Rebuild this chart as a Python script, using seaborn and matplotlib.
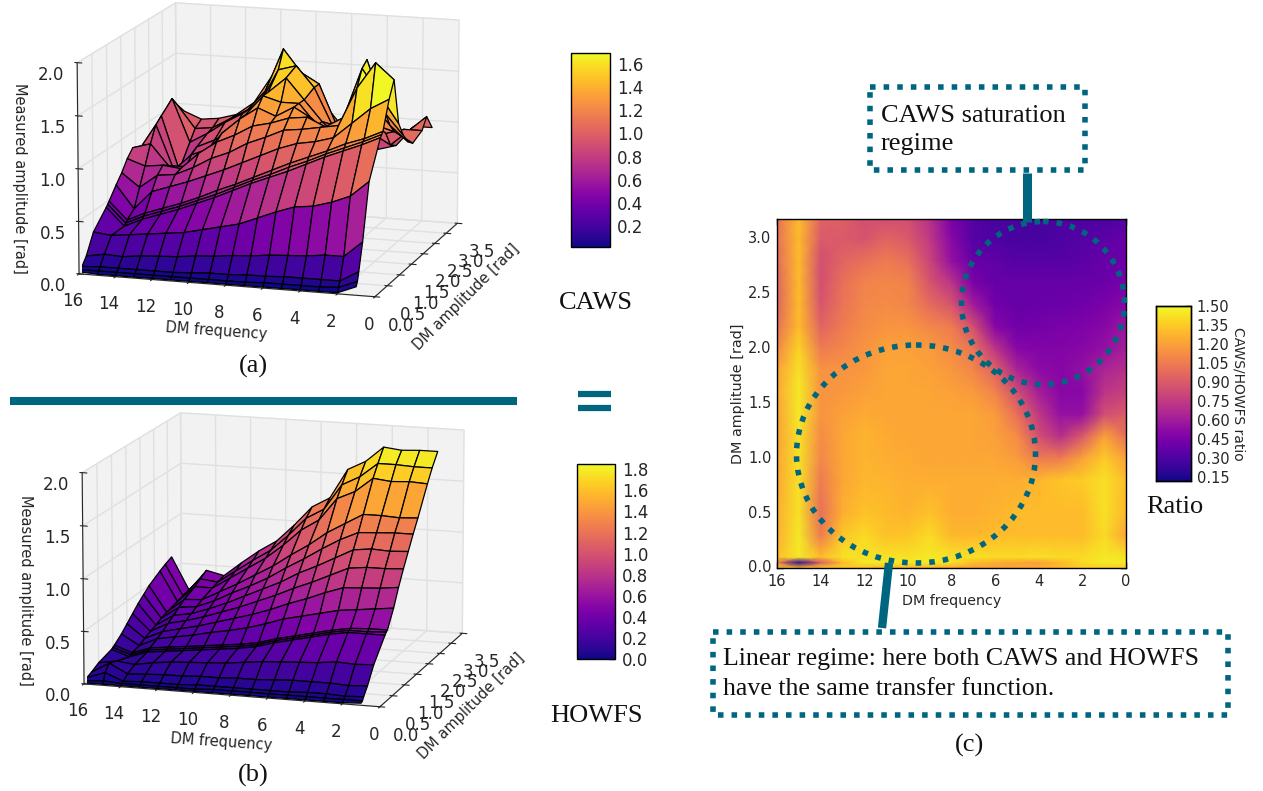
import numpy as np
import pandas as pd
import matplotlib
matplotlib.use("Agg")
import matplotlib.pyplot as plt
from matplotlib.patches import Ellipse, Rectangle
import seaborn as sns

sns.set_style("white")
plt.rcParams['font.family'] = ['DejaVu Sans']

surf_freq = [16, 15, 14, 13, 12, 11, 10, 9, 8, 7, 6, 5, 4, 3, 2, 1]
surf_amp = [0, .05, .1, .25, .5, .95, 1.0, 1.05, 1.3, 1.5, 1.7, 1.9, 2.1, 2.3, 2.7, 2.9, 3.14]

caws = [
 [.02,.01,.01,.01,.01,.01,.01,.01,.01,.01,.01,.01,.01,.01,.01,.08],
 [.03,.03,.03,.03,.03,.03,.03,.03,.03,.03,.04,.04,.04,.04,.05,.12],
 [.05,.06,.06,.06,.06,.06,.07,.08,.08,.09,.09,.10,.10,.10,.10,.20],
 [.12,.15,.14,.16,.17,.18,.20,.21,.23,.24,.26,.27,.28,.30,.30,.45],
 [.30,.28,.30,.32,.34,.36,.40,.44,.48,.55,.62,.68,.70,.75,.82,.97],
 [.45,.28,.36,.42,.48,.55,.62,.70,.78,.85,.92,1.00,1.08,1.15,1.22,1.30],
 [.47,.30,.38,.44,.50,.57,.64,.72,.80,.87,.95,1.02,1.10,1.17,1.24,1.32],
 [.49,.32,.40,.46,.52,.59,.67,.74,.82,.90,.98,1.05,1.12,1.20,1.26,1.34],
 [.60,.38,.56,.62,.68,.75,.82,.90,.98,1.06,1.12,1.15,1.20,1.35,1.50,1.60],
 [.68,.55,.68,.70,.78,.88,.95,1.05,1.12,1.20,1.22,1.25,1.28,1.65,1.90,1.75],
 [.78,.72,.74,.72,.88,1.00,1.08,1.18,1.22,1.28,1.30,1.22,1.32,1.80,1.55,1.30],
 [.85,.90,.70,.70,.80,1.05,1.20,1.32,1.25,1.35,1.25,1.10,1.20,1.85,1.35,1.15],
 [.78,1.05,.62,.78,.85,1.05,1.20,1.40,1.35,1.35,1.15,1.05,1.45,1.40,1.20,1.05],
 [.72,1.10,.58,.82,.90,1.00,1.12,1.40,1.55,1.35,1.15,1.00,1.55,1.15,1.10,1.00],
 [.85,1.20,.78,.88,1.00,1.10,1.22,1.55,1.60,1.40,1.05,.95,1.20,1.00,1.05,1.05],
 [.90,1.10,.88,.90,1.00,1.10,1.30,1.72,1.50,1.40,1.00,.85,.95,.85,1.00,1.15],
 [.97,1.00,.93,.95,1.00,1.13,1.40,1.45,1.30,1.15,.95,.80,.75,.80,1.00,1.00],
]
howfs = [
 [.01,.01,.01,.01,.01,.01,.01,.01,.01,.01,.01,.01,.01,.01,.01,.02],
 [.02,.03,.02,.02,.02,.02,.02,.03,.03,.03,.03,.03,.03,.03,.03,.03],
 [.04,.10,.03,.04,.04,.04,.05,.05,.05,.05,.05,.05,.06,.06,.05,.06],
 [.06,.16,.07,.08,.09,.09,.10,.10,.11,.11,.12,.13,.13,.13,.12,.13],
 [.10,.13,.11,.14,.16,.17,.18,.19,.21,.23,.24,.25,.26,.28,.27,.28],
 [.14,.08,.14,.16,.18,.20,.22,.24,.27,.32,.36,.40,.44,.47,.47,.47],
 [.15,.09,.15,.17,.19,.21,.23,.25,.28,.33,.37,.41,.45,.48,.48,.49],
 [.16,.10,.16,.18,.20,.22,.24,.26,.29,.34,.38,.42,.46,.49,.50,.50],
 [.22,.12,.20,.23,.26,.30,.33,.37,.42,.48,.52,.56,.60,.62,.64,.66],
 [.28,.15,.23,.27,.31,.36,.41,.46,.52,.59,.65,.72,.78,.79,.80,.82],
 [.34,.18,.27,.31,.36,.42,.48,.55,.62,.70,.77,.85,.93,.95,.95,.96],
 [.40,.20,.31,.34,.40,.47,.55,.63,.71,.81,.89,.98,1.07,1.09,1.08,1.09],
 [.45,.23,.35,.37,.44,.53,.61,.70,.81,.91,1.02,1.12,1.20,1.21,1.22,1.22],
 [.50,.25,.39,.40,.49,.58,.68,.78,.90,1.01,1.14,1.24,1.34,1.34,1.33,1.34],
 [.57,.28,.44,.44,.55,.66,.77,.91,1.07,1.18,1.40,1.48,1.62,1.60,1.61,1.60],
 [.60,.30,.48,.46,.58,.70,.81,.97,1.15,1.25,1.50,1.59,1.73,1.73,1.72,1.72],
 [.63,.31,.52,.48,.62,.75,.86,1.03,1.22,1.32,1.61,1.70,1.85,1.83,1.84,1.84],
]

ratio_freq = [16, 15, 14, 13, 12, 11, 10, 9, 8, 7, 6, 5, 4, 3, 2, 1, 0]
ratio_amp = [0, .05, .1, .3, .5, .8, 1.0, 1.2, 1.4, 1.6, 1.8, 2.0, 2.2, 2.4, 2.6, 2.8, 3.0, 3.18]
ratio = [
 [1.35,1.30,1.35,1.35,1.30,1.28,1.28,1.25,1.22,1.20,1.20,1.22,1.25,1.30,1.35,1.35,1.35],
 [1.10,.20,.90,1.30,1.45,1.45,1.45,1.45,1.42,1.30,1.25,1.22,1.20,1.30,1.40,1.45,1.45],
 [1.30,1.45,1.30,1.42,1.42,1.42,1.42,1.45,1.42,1.42,1.40,1.40,1.42,1.40,1.40,1.45,1.42],
 [1.25,1.45,1.05,1.33,1.40,1.32,1.33,1.40,1.28,1.28,1.30,1.30,1.30,1.30,1.30,1.40,1.22],
 [1.25,1.42,1.00,1.25,1.32,1.30,1.27,1.32,1.25,1.25,1.27,1.30,1.30,1.30,1.30,1.42,1.28],
 [1.22,1.42,1.05,1.22,1.28,1.27,1.25,1.25,1.25,1.25,1.25,1.25,1.28,1.33,1.35,1.42,1.30],
 [1.22,1.42,1.10,1.22,1.27,1.25,1.24,1.22,1.22,1.22,1.22,1.18,1.05,1.05,1.20,1.35,1.20],
 [1.20,1.42,1.12,1.22,1.27,1.24,1.22,1.22,1.22,1.22,1.20,1.12,.85,.70,.90,1.20,1.00],
 [1.20,1.45,1.15,1.20,1.24,1.22,1.22,1.22,1.22,1.22,1.18,1.00,.75,.55,.55,.85,.90],
 [1.22,1.45,1.15,1.17,1.20,1.22,1.22,1.22,1.20,1.18,1.08,.85,.62,.50,.50,.72,.78],
 [1.20,1.42,1.15,1.15,1.17,1.22,1.22,1.20,1.17,1.10,.95,.65,.52,.50,.55,.65,.70],
 [1.10,1.38,1.05,1.10,1.15,1.20,1.20,1.18,1.12,1.02,.72,.50,.48,.48,.50,.55,.62],
 [1.00,1.30,.95,1.05,1.12,1.15,1.15,1.10,1.05,.85,.50,.42,.43,.45,.47,.50,.58],
 [.95,1.30,.88,1.02,1.10,1.12,1.10,.98,.88,.60,.42,.38,.40,.40,.42,.45,.50],
 [.95,1.30,.85,1.00,1.08,1.10,1.08,.88,.72,.45,.38,.38,.38,.38,.38,.40,.45],
 [.98,1.30,.85,.95,1.00,1.05,1.00,.80,.55,.38,.36,.33,.33,.33,.35,.38,.40],
 [1.00,1.30,.90,.90,.88,.95,.90,.75,.50,.33,.30,.28,.28,.30,.32,.35,.38],
 [1.00,1.30,.95,.92,.85,.85,.85,.70,.45,.32,.28,.28,.28,.30,.30,.30,.32],
]

amp_ticks = [0, .5, 1, 1.5, 2, 2.5, 3, 3.5]
freq_ticks = [16, 14, 12, 10, 8, 6, 4, 2, 0]
z_ticks = [0, .5, 1, 1.5, 2]
TEAL = '#006680'
W, H = 1263, 791
fig = plt.figure(figsize=(W / 100, H / 100), dpi=100)


def pxbox(x0, y0, x1, y1):
    return [x0 / W, 1 - y1 / H, (x1 - x0) / W, (y1 - y0) / H]


def surface(box, values, vmin, vmax, cbox, cticks):
    ax = fig.add_axes(pxbox(*box), projection='3d')
    X, Y = np.meshgrid(surf_freq, surf_amp)
    s = ax.plot_surface(X, Y, np.array(values), rstride=1, cstride=1, cmap='plasma',
                        vmin=vmin, vmax=vmax, edgecolor='black', linewidth=.9)
    ax.set_xlim(0, 16); ax.set_ylim(3.5, 0); ax.set_zlim(0, 2)
    ax.view_init(elev=13, azim=107)
    ax.set_proj_type('persp', focal_length=2.5)
    ax.set_box_aspect((4.7, 4.8, 3.3), zoom=1.265)
    ax.set_xticks(freq_ticks); ax.set_yticks(amp_ticks); ax.set_zticks(z_ticks)
    ax.set_yticklabels(['%.1f' % v for v in amp_ticks])
    ax.set_zticklabels(['%.1f' % v for v in z_ticks])
    ax.zaxis.set_ticks_position('lower')
    ax.tick_params(labelsize=12)
    ax.tick_params(axis='z', pad=1)
    ax.tick_params(axis='x', pad=1)
    ax.tick_params(axis='y', pad=4)
    for a in (ax.xaxis, ax.yaxis, ax.zaxis):
        a.set_pane_color((.95, .95, .95, 1))
        a._axinfo['grid'].update(color=(.88, .88, .88, 1), linewidth=1)
    ax.patch.set_alpha(0)
    cax = fig.add_axes(pxbox(*cbox))
    cb = fig.colorbar(s, cax=cax, ticks=cticks)
    cb.ax.tick_params(labelsize=12, direction='in', length=4, width=1, pad=5)
    cb.outline.set_linewidth(1)
    cb.outline.set_edgecolor('black')
    cb.ax.set_yticklabels(['%.1f' % t for t in cticks])
    return ax


surface((27, -35, 507, 335), caws, .02, 1.695, (571, 53, 610, 247), [.2, .4, .6, .8, 1, 1.2, 1.4, 1.6])
surface((32, 375, 512, 745), howfs, 0, 1.85, (577, 464, 615, 659), [0, .2, .4, .6, .8, 1, 1.2, 1.4, 1.6, 1.8])

# ratio heatmap
hax = fig.add_axes(pxbox(777, 219, 1126, 568))
ccax = fig.add_axes(pxbox(1156, 306, 1191, 481))
frame = pd.DataFrame(ratio, index=ratio_amp, columns=ratio_freq)
c_ticks = [.15, .30, .45, .60, .75, .90, 1.05, 1.20, 1.35, 1.50]
sns.heatmap(frame, ax=hax, cmap='plasma', vmin=.12, vmax=1.5, cbar_ax=ccax,
            cbar_kws={'ticks': c_ticks, 'label': 'CAWS/HOWFS ratio'})
hax.collections[0].set_visible(False)
FX, FY = np.meshgrid(ratio_freq, ratio_amp)
hax.pcolormesh(FX, FY, np.array(ratio), shading='gouraud', cmap='plasma', vmin=.12, vmax=1.5)
hax.set_xlim(16, 0); hax.set_ylim(0, 3.18)
hax.set_xticks(freq_ticks); hax.set_xticklabels([str(v) for v in freq_ticks], rotation=0)
yt = [0, .5, 1, 1.5, 2, 2.5, 3]
hax.set_yticks(yt); hax.set_yticklabels(['%.1f' % v for v in yt], rotation=0)
hax.tick_params(labelsize=10.5, direction='in', top=True, right=True, length=4, width=1, color='black', pad=4, left=True, bottom=True)
hax.set_xlabel('DM frequency', fontsize=10.3, labelpad=4)
hax.set_ylabel('DM amplitude [rad]', fontsize=10.4, labelpad=2)
for sp in hax.spines.values():
    sp.set_visible(True); sp.set_color('black'); sp.set_linewidth(1)
ccax.tick_params(labelsize=10.5, direction='in', length=4, width=1, right=True, pad=4)
ccax.set_yticklabels(['%.2f' % t for t in c_ticks])
ccax.yaxis.label.set_rotation(270)
ccax.yaxis.label.set_fontsize(10)
ccax.yaxis.labelpad = 12
for sp in ccax.spines.values():
    sp.set_visible(True); sp.set_color('black'); sp.set_linewidth(1)

# annotation overlay in pixel coordinates
ov = fig.add_axes([0, 0, 1, 1], zorder=10)
ov.set_xlim(0, W); ov.set_ylim(H, 0); ov.axis('off'); ov.patch.set_alpha(0)
dots = (0, (1, 1.45))
kw = dict(fill=False, edgecolor=TEAL, linewidth=4, linestyle=dots)
ov.add_patch(Ellipse((1043, 303), 163, 163, **kw))
ov.add_patch(Ellipse((916, 454), 239, 218, **kw))
ov.add_patch(Rectangle((870, 87), 215, 83, **kw))
ov.add_patch(Rectangle((713, 632), 515, 83, **kw))
ov.plot([10, 517], [401, 401], color=TEAL, lw=5.8, solid_capstyle='butt')
ov.plot([1027, 1027], [173, 222], color=TEAL, lw=6.5, solid_capstyle='butt')
ov.plot([889, 882], [563, 628], color=TEAL, lw=6, solid_capstyle='butt')
ov.plot([578, 611], [394, 394], color=TEAL, lw=4.5, solid_capstyle='butt')
ov.plot([578, 611], [408, 408], color=TEAL, lw=4.5, solid_capstyle='butt')
serif = dict(family='Liberation Serif', color='#111111')
ov.text(596, 303, 'CAWS', fontsize=19, ha='center', va='center', **serif)
ov.text(596, 716, 'HOWFS', fontsize=19, ha='center', va='center', **serif)
ov.text(1175, 507, 'Ratio', fontsize=19, ha='center', va='center', **serif)
ov.text(253, 366, '(a)', fontsize=19, ha='center', va='center', **serif)
ov.text(253, 775, '(b)', fontsize=19, ha='center', va='center', **serif)
ov.text(969, 745, '(c)', fontsize=19, ha='center', va='center', **serif)
ov.text(881, 130, 'CAWS saturation\nregime', fontsize=19, ha='left', va='center', linespacing=1.4, **serif)
ov.text(723, 674, 'Linear regime: here both CAWS and HOWFS\nhave the same transfer function.', fontsize=18.6, ha='left', va='center', linespacing=1.45, **serif)
ov.text(19, 178, 'Measured amplitude [rad]', fontsize=10.5, rotation=270, ha='center', va='center')
ov.text(25, 590, 'Measured amplitude [rad]', fontsize=10.5, rotation=270, ha='center', va='center')
ov.text(216, 331, 'DM frequency', fontsize=10.5, rotation=-4, ha='center', va='center')
ov.text(221, 742, 'DM frequency', fontsize=10.5, rotation=-4, ha='center', va='center')
ov.text(466, 297, 'DM amplitude [rad]', fontsize=10.5, rotation=45, ha='center', va='center')
ov.text(471, 706, 'DM amplitude [rad]', fontsize=10.5, rotation=45, ha='center', va='center')

fig.savefig('out.png', dpi=100)
